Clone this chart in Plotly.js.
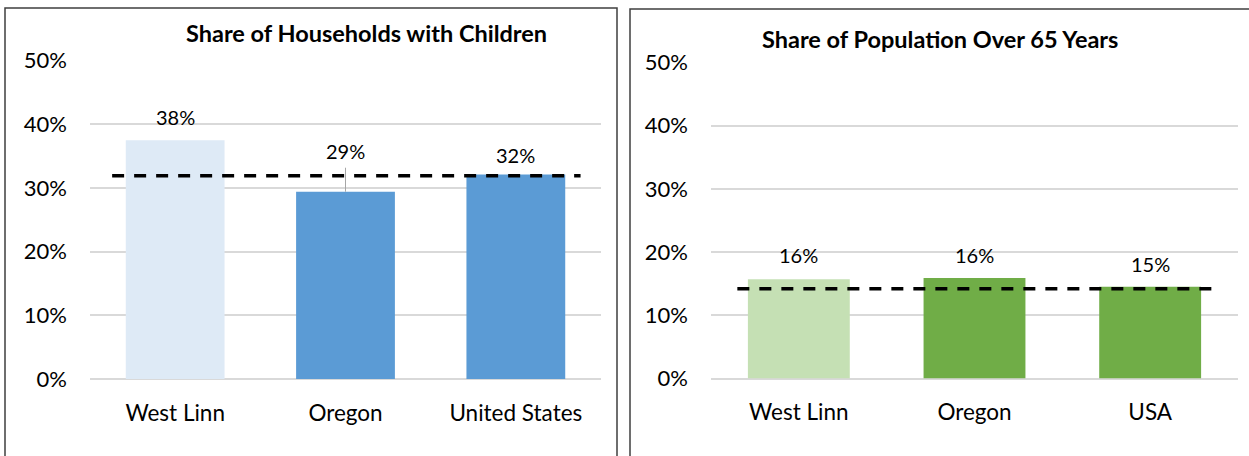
<!DOCTYPE html>
<html>
<head>
<meta charset="utf-8">
<script src="https://cdn.plot.ly/plotly-3.0.1.min.js"></script>
<style>
  html, body { margin: 0; padding: 0; background: #fff; }
  #chart { width: 1249px; height: 456px; }
</style>
</head>
<body>
<div id="chart"></div>
<script>
// ---- Data ----
const titleLeft = "Share of Households with Children";
const titleRight = "Share of Population Over 65 Years";

const catsLeft = ["West Linn", "Oregon", "United States"];
const valsLeft = [0.375, 0.294, 0.321];
const labelsLeft = ["38%", "29%", "32%"];
const refLeft = 0.319;

const catsRight = ["West Linn", "Oregon", "USA"];
const valsRight = [0.157, 0.159, 0.145];
const labelsRight = ["16%", "16%", "15%"];
const refRight = 0.142;

const yTickVals = [0, 0.1, 0.2, 0.3, 0.4, 0.5];
const yTickText = ["0%", "10%", "20%", "30%", "40%", "50%"];

// ---- Styles ----
const W = 1249, H = 456;
const FONT = "Lato, 'Liberation Sans', Arial, sans-serif";
const colorsLeft = ["#DEEAF6", "#5B9BD5", "#5B9BD5"];
const colorsRight = ["#C5E0B4", "#70AD47", "#70AD47"];
const labelShiftLeft = [23, 41, 20];
const labelShiftRight = [24, 23, 23];

const px = v => v / W;
const py = v => (H - v) / H;

const traces = [
  {
    type: "bar", x: catsLeft, y: valsLeft, xaxis: "x", yaxis: "y",
    marker: { color: colorsLeft, line: { width: 0 } },
    width: 0.58, hoverinfo: "skip", showlegend: false
  },
  {
    type: "bar", x: catsRight, y: valsRight, xaxis: "x2", yaxis: "y2",
    marker: { color: colorsRight, line: { width: 0 } },
    width: 0.58, hoverinfo: "skip", showlegend: false
  }
];

function yAxis(domain) {
  return {
    domain: domain, range: [0, 0.5], tickvals: yTickVals, ticktext: yTickText,
    showgrid: true, gridcolor: "#D9D9D9", gridwidth: 2,
    zeroline: true, zerolinecolor: "#D9D9D9", zerolinewidth: 2,
    showline: false, ticks: "", ticklabelstandoff: 22,
    tickfont: { family: FONT, size: 22, color: "#000" }, fixedrange: true
  };
}
function xAxis(domain, anchor, cats) {
  return {
    domain: domain, anchor: anchor, type: "category", categoryarray: cats,
    range: [-0.5, 2.5], showgrid: false, zeroline: false, showline: false,
    ticks: "", ticklabelstandoff: 18,
    tickfont: { family: FONT, size: 22.5, color: "#000" }, fixedrange: true
  };
}

const annotations = [];
annotations.push({
  xref: "paper", yref: "paper", x: px(366), y: py(33), xanchor: "center", yanchor: "middle",
  text: "<b>" + titleLeft + "</b>", showarrow: false,
  font: { family: FONT, size: 23.5, color: "#000" }
});
annotations.push({
  xref: "paper", yref: "paper", x: px(940), y: py(39), xanchor: "center", yanchor: "middle",
  text: "<b>" + titleRight + "</b>", showarrow: false,
  font: { family: FONT, size: 23.5, color: "#000" }
});
catsLeft.forEach((c, i) => annotations.push({
  xref: "x", yref: "y", x: c, y: valsLeft[i], yshift: labelShiftLeft[i],
  xanchor: "center", yanchor: "middle", text: labelsLeft[i], showarrow: false,
  font: { family: FONT, size: 20, color: "#000" }
}));
catsRight.forEach((c, i) => annotations.push({
  xref: "x2", yref: "y2", x: c, y: valsRight[i], yshift: labelShiftRight[i],
  xanchor: "center", yanchor: "middle", text: labelsRight[i], showarrow: false,
  font: { family: FONT, size: 20, color: "#000" }
}));

const shapes = [
  // panel borders
  { type: "rect", xref: "paper", yref: "paper", x0: px(5), x1: px(617), y0: -0.1, y1: py(8),
    line: { color: "#3F3F3F", width: 1.5 }, fillcolor: "rgba(0,0,0,0)", layer: "below" },
  { type: "rect", xref: "paper", yref: "paper", x0: px(630), x1: 1.1, y0: -0.1, y1: py(9),
    line: { color: "#3F3F3F", width: 1.5 }, fillcolor: "rgba(0,0,0,0)", layer: "below" },
  // leader line for Oregon label
  { type: "line", xref: "x", yref: "y", x0: 1, x1: 1, ysizemode: "pixel", yanchor: valsLeft[1],
    y0: 0, y1: 24, line: { color: "#A6A6A6", width: 1 } },
  // reference dashed lines
  { type: "line", xref: "x", yref: "y", x0: -0.37, x1: 2.38, y0: refLeft, y1: refLeft,
    line: { color: "#000", width: 3.5, dash: "12px,10px" } },
  { type: "line", xref: "x2", yref: "y2", x0: -0.35, x1: 2.35, y0: refRight, y1: refRight,
    line: { color: "#000", width: 3.5, dash: "12px,10px" } }
];

const layout = {
  width: W, height: H,
  margin: { l: 0, r: 0, t: 0, b: 0 },
  paper_bgcolor: "#fff", plot_bgcolor: "rgba(0,0,0,0)",
  showlegend: false, bargap: 0.42,
  xaxis: xAxis([px(90), px(601)], "y", catsLeft),
  yaxis: yAxis([py(379), py(60.5)]),
  xaxis2: xAxis([px(711), px(1238)], "y2", catsRight),
  yaxis2: Object.assign(yAxis([py(378.5), py(62.5)]), { anchor: "x2" }),
  annotations: annotations,
  shapes: shapes
};
layout.yaxis.anchor = "x";

Plotly.newPlot("chart", traces, layout, { staticPlot: true, displayModeBar: false });
</script>
</body>
</html>
